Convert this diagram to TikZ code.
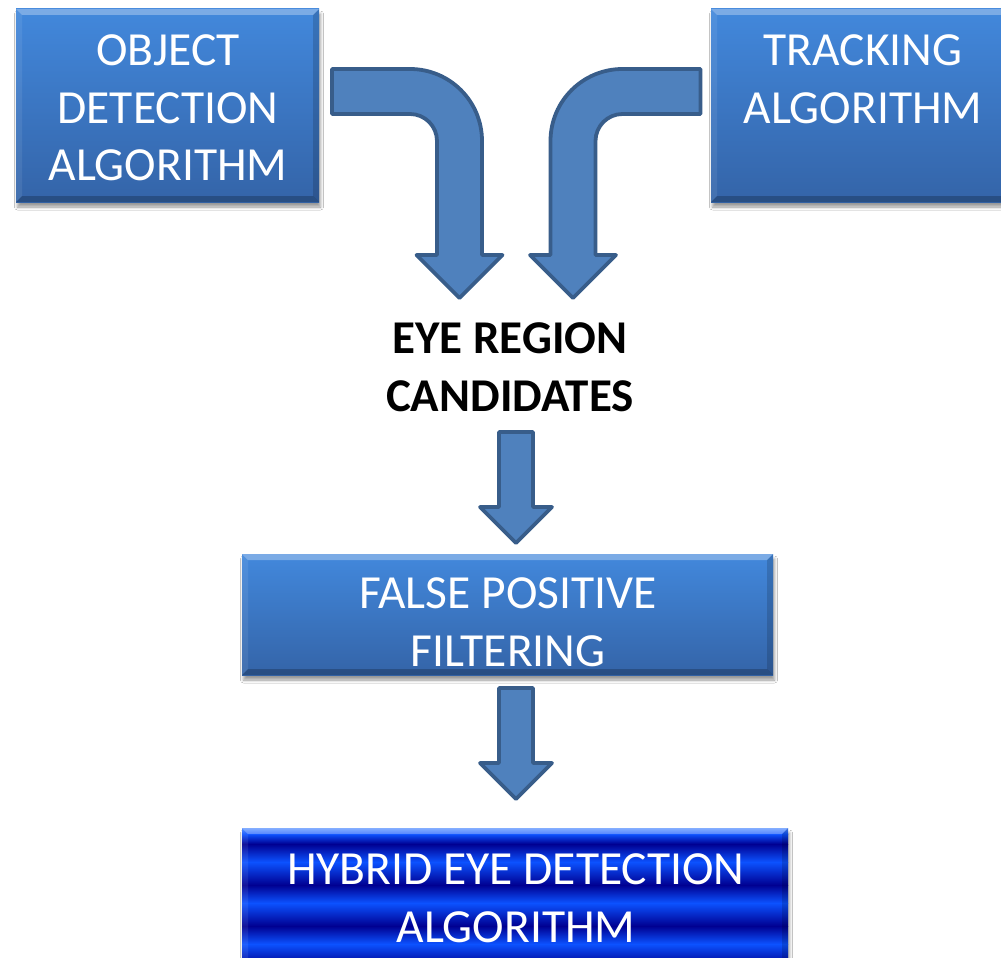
\documentclass[tikz,border=0pt]{standalone}
\usepackage{fontspec}
\setmainfont{Carlito}
\usetikzlibrary{calc,shadows.blur}

\definecolor{boxtop}{RGB}{66,136,220}
\definecolor{boxbot}{RGB}{52,100,168}
\definecolor{arrowfill}{RGB}{79,129,189}
\definecolor{arrowline}{RGB}{56,93,138}
\definecolor{bandtop}{RGB}{80,140,255}
\definecolor{bandlight}{RGB}{12,82,255}
\definecolor{banddark}{RGB}{0,0,145}

\tikzset{
  panel/.style={rectangle, inner sep=0pt, outer sep=0pt,
    top color=boxtop, bottom color=boxbot,
    blur shadow={shadow xshift=1.5pt, shadow yshift=-5pt,
      shadow blur radius=3pt, shadow opacity=40}},
  bandpanel/.style={rectangle, inner sep=0pt, outer sep=0pt, fill=banddark,
    blur shadow={shadow xshift=1.5pt, shadow yshift=-5pt,
      shadow blur radius=3pt, shadow opacity=40}},
  label/.style={inner sep=0pt, outer sep=0pt, align=center, anchor=north,
    text=white, font=\fontsize{47.5}{57.5}\selectfont},
  boldlabel/.style={label, text=black,
    font=\fontsize{47}{57.5}\selectfont\bfseries},
  blockarrow/.style={fill=arrowfill, draw=arrowline, line width=3.8pt,
    line join=round},
}

% raised-edge look on a rectangular node
\newcommand\bevel[1]{%
  \fill[white,opacity=.30] (#1.north west) -- (#1.north east)
    -- ($(#1.north east)+(-6,6)$) -- ($(#1.north west)+(6,6)$) -- cycle;
  \fill[white,opacity=.08] (#1.north west) -- ($(#1.north west)+(6,6)$)
    -- ($(#1.south west)+(6,-6)$) -- (#1.south west) -- cycle;
  \fill[black,opacity=.15] (#1.north east) -- (#1.south east)
    -- ($(#1.south east)+(-6,-6)$) -- ($(#1.north east)+(-6,6)$) -- cycle;
  \fill[black,opacity=.22] (#1.south west) -- (#1.south east)
    -- ($(#1.south east)+(-6,-6)$) -- ($(#1.south west)+(6,-6)$) -- cycle;
}

% straight block arrow: #1 = top centre, #2 = tip
\newcommand\blockdown[2]{%
  \filldraw[blockarrow] ($(#1)+(-17,0)$) -- ($(#1)+(17,0)$)
    -- ($(#2)+(17,-36)$) -- ($(#2)+(36,-36)$) -- (#2)
    -- ($(#2)+(-36,-36)$) -- ($(#2)+(-17,-36)$) -- cycle;
}

\begin{document}
\begin{tikzpicture}[x=1pt, y=-1pt]
\useasboundingbox (0,0) rectangle (1001,958);
\fill[white] (0,0) rectangle (1001,958);

% ---- input blocks ----
\node[panel, minimum width=303, minimum height=193] (od) at (167.5,105.5) {};
\bevel{od}
\node[label] (odtxt) at (168,35) {OBJECT\\DETECTION\\ALGORITHM};

\node[panel, minimum width=304, minimum height=193] (tr) at (863,105.5) {};
\bevel{tr}
\node[label] (trtxt) at (863,35) {TRACKING\\ALGORITHM};

% ---- bent arrows feeding the candidates ----
\coordinate (odout) at (332,91.5);
\coordinate (trout) at (700.5,91.5);
\filldraw[blockarrow] (332,69) -- (410,69)
  .. controls (449.8,69) and (482,101.2) .. (482,141)
  -- (482,255) -- (502.5,255) -- (459.5,298) -- (416.5,255) -- (437,255)
  -- (437,141) .. controls (437,126.1) and (424.9,114) .. (410,114)
  -- (332,114) -- cycle;
\begin{scope}[shift={(1032.5,0)}, xscale=-1]
\filldraw[blockarrow] (332,69) -- (410,69)
  .. controls (449.8,69) and (482,101.2) .. (482,141)
  -- (482,255) -- (502.5,255) -- (459.5,298) -- (416.5,255) -- (437,255)
  -- (437,141) .. controls (437,126.1) and (424.9,114) .. (410,114)
  -- (332,114) -- cycle;
\end{scope}

% ---- candidates ----
\node[boldlabel] (eye) at (510,323) {EYE REGION\\CANDIDATES};

% ---- filtering ----
\coordinate (a1top) at (516,432);
\coordinate (a1tip) at (516,543);
\blockdown{a1top}{a1tip}

\node[panel, minimum width=531, minimum height=121] (fp) at (507.5,614.5) {};
\bevel{fp}
\node[label] (fptxt) at (508,578) {FALSE POSITIVE\\FILTERING};

\coordinate (a2top) at (516,688);
\coordinate (a2tip) at (516,799);
\blockdown{a2top}{a2tip}

% ---- result ----
\node[bandpanel, minimum width=546, minimum height=162] (hy) at (515,909) {};
\foreach \ya/\yb/\ca/\cb in {
    828/834/bandtop/bandlight, 834/844/bandlight/banddark,
    844/862/banddark/bandlight, 862/885/bandlight/banddark,
    885/903/banddark/bandlight, 903/926/bandlight/banddark,
    926/944/banddark/bandlight, 944/966/bandlight/banddark,
    966/990/banddark/bandlight}
  \shade[top color=\ca, bottom color=\cb]
    (hy.west |- 0,\ya) rectangle (hy.east |- 0,\yb);
\bevel{hy}
\node[label] (hytxt) at (516,854) {HYBRID EYE DETECTION\\ALGORITHM};
\end{tikzpicture}
\end{document}
